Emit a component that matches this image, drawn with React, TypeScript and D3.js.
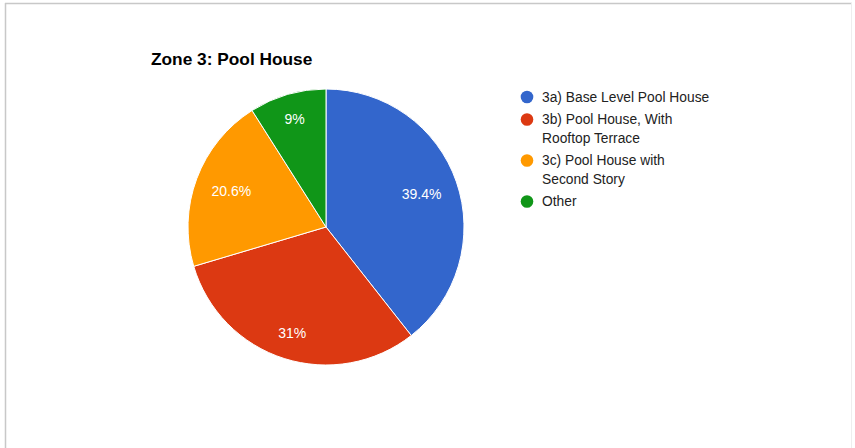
import React from "react";
import * as d3 from "d3";

const categories = [
  "3a) Base Level Pool House",
  "3b) Pool House, With Rooftop Terrace",
  "3c) Pool House with Second Story",
  "Other",
];
const values = [39.4, 31, 20.6, 9];
const sliceLabels = ["39.4%", "31%", "20.6%", "9%"];
const legendLines = [
  ["3a) Base Level Pool House"],
  ["3b) Pool House, With", "Rooftop Terrace"],
  ["3c) Pool House with", "Second Story"],
  ["Other"],
];
const colors = ["#3366cc", "#dc3912", "#ff9900", "#109618"];

const W = 855;
const H = 448;
const cx = 326;
const cy = 227;
const R = 138;
const font = "'Liberation Sans', Arial, sans-serif";
const labelSize = 14;

function measure(text: string, size: number): number {
  if (typeof document === "undefined") return text.length * size * 0.55;
  const c = document.createElement("canvas").getContext("2d");
  if (!c) return text.length * size * 0.55;
  c.font = `${size}px 'Liberation Sans', Arial, sans-serif`;
  return c.measureText(text).width;
}

export default function App() {
  const pie = d3.pie<number>().sort(null).value((d) => d)(values);
  const arc = d3.arc<d3.PieArcDatum<number>>().innerRadius(0).outerRadius(R);

  let ly = 97;
  const legendItems = legendLines.map((lines, i) => {
    const y0 = ly;
    ly += lines.length * 18.5 + 4;
    return { lines, y0, i };
  });

  return (
    <svg
      width={W}
      height={H}
      style={{ position: "absolute", left: 0, top: 0, background: "#fff" }}
    >
      <line x1={5} y1={3.5} x2={852} y2={3.5} stroke="#c8c8c8" strokeWidth={1.5} />
      <line x1={5.5} y1={3} x2={5.5} y2={448} stroke="#c8c8c8" strokeWidth={1.5} />
      <line x1={851.5} y1={3} x2={851.5} y2={448} stroke="#eeeeee" strokeWidth={1} />
      <text
        x={151}
        y={65}
        fontFamily={font}
        fontWeight="bold"
        fontSize={17.3}
        fill="#000"
      >
        Zone 3: Pool House
      </text>
      <g>
        {pie.map((p, i) => (
          <path
            key={i}
            d={arc(p) || ""}
            transform={`translate(${cx},${cy})`}
            fill={colors[i]}
            stroke="#fff"
            strokeWidth={1}
          />
        ))}
        {pie.map((p, i) => {
          const mid = (p.startAngle + p.endAngle) / 2;
          const ux = Math.sin(mid);
          const uy = -Math.cos(mid);
          const w = measure(sliceLabels[i], labelSize);
          const h = labelSize;
          const d = R * 0.885 - (Math.abs(ux) * w) / 2 - (Math.abs(uy) * h) / 2;
          return (
            <text
              key={"l" + i}
              x={cx + ux * d}
              y={cy + uy * d}
              dy="0.35em"
              textAnchor="middle"
              fontFamily={font}
              fontSize={labelSize}
              fill="#fff"
            >
              {sliceLabels[i]}
            </text>
          );
        })}
      </g>
      <g>
        {legendItems.map(({ lines, y0, i }) => (
          <g key={categories[i]}>
            <circle cx={527} cy={y0} r={6.3} fill={colors[i]} />
            {lines.map((t, j) => (
              <text
                key={j}
                x={542}
                y={y0 + j * 18.5}
                dy="0.35em"
                fontFamily={font}
                fontSize={13.8}
                fill="#222"
              >
                {t}
              </text>
            ))}
          </g>
        ))}
      </g>
    </svg>
  );
}
